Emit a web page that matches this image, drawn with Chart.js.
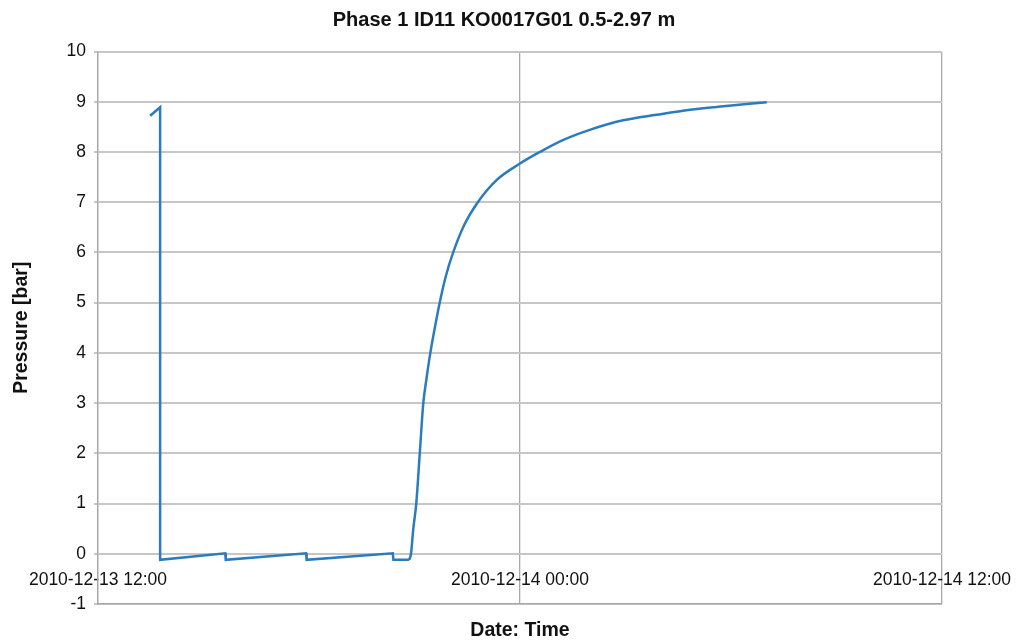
<!DOCTYPE html>
<html>
<head>
<meta charset="utf-8">
<title>Phase 1 ID11 KO0017G01</title>
<script src="https://cdn.jsdelivr.net/npm/chart.js@4.4.1/dist/chart.umd.min.js"></script>
<style>
  html, body { margin: 0; padding: 0; background: #ffffff; }
  #wrap { width: 1026px; height: 644px; }
</style>
</head>
<body>
<div id="wrap"><canvas id="chart" width="1026" height="644"></canvas></div>
<script>
// readings (UTC time stamps) and pressure values
var times = [
    '2010-12-13 13:29', '2010-12-13 13:46', '2010-12-13 13:46',
    '2010-12-13 15:37', '2010-12-13 15:38', '2010-12-13 17:55', '2010-12-13 17:56',
    '2010-12-13 20:23', '2010-12-13 20:24', '2010-12-13 20:51', '2010-12-13 20:54',
    '2010-12-13 20:58', '2010-12-13 21:03', '2010-12-13 21:09', '2010-12-13 21:15',
    '2010-12-13 21:20', '2010-12-13 21:27', '2010-12-13 21:35', '2010-12-13 21:43',
    '2010-12-13 21:54', '2010-12-13 22:06', '2010-12-13 22:25', '2010-12-13 22:48',
    '2010-12-13 23:20', '2010-12-14 00:00', '2010-12-14 00:34', '2010-12-14 01:14',
    '2010-12-14 01:59', '2010-12-14 02:56', '2010-12-14 03:53', '2010-12-14 04:50',
    '2010-12-14 05:47', '2010-12-14 07:01'
];
var pressure = [
    8.72, 8.89, -0.12,
    0.01, -0.12, 0.01, -0.12,
    0.01, -0.12, -0.12, 0.0,
    0.5, 1.0, 2.0, 3.0,
    3.45, 4.0, 4.52, 5.0,
    5.55, 6.0, 6.55, 7.0,
    7.44, 7.77, 8.0, 8.24,
    8.44, 8.63, 8.74, 8.84,
    8.91, 8.99
];
// index where the slow recovery curve begins (after the step drops)
var recoveryStart = 9;
var xStart = '2010-12-13 12:00';
var xEnd = '2010-12-14 12:00';
var yTicks = { min: -1, max: 10, step: 1 };

function toMs(s) {
    var d = s.split(' ')[0].split('-');
    var t = s.split(' ')[1].split(':');
    return Date.UTC(+d[0], +d[1] - 1, +d[2], +t[0], +t[1]);
}
function fmt(ms) {
    var iso = new Date(ms).toISOString();
    return iso.slice(0, 10) + ' ' + iso.slice(11, 16);
}

var steps = [], recovery = [];
for (var i = 0; i < times.length; i++) {
    var p = { x: toMs(times[i]), y: pressure[i] };
    if (i <= recoveryStart) steps.push(p);
    if (i >= recoveryStart) recovery.push(p);
}

var lineColor = '#2b7bbf';
var fontFamily = "'Liberation Sans', Arial, Helvetica, sans-serif";
var context = document.getElementById('chart').getContext('2d');

var chart = new Chart(context, {
    type: 'line',
    data: {
        datasets: [
            {
                label: 'Pressure',
                data: steps,
                borderColor: lineColor,
                borderWidth: 2.5,
                pointRadius: 0,
                tension: 0,
                fill: false
            },
            {
                label: 'Pressure recovery',
                data: recovery,
                borderColor: lineColor,
                borderWidth: 2.5,
                pointRadius: 0,
                cubicInterpolationMode: 'monotone',
                fill: false
            }
        ]
    },
    options: {
        responsive: false,
        animation: false,
        devicePixelRatio: 1,
        layout: { padding: { top: 0, left: 0, right: 18, bottom: 0 } },
        plugins: {
            legend: { display: false },
            tooltip: { enabled: false },
            title: {
                display: true,
                text: 'Phase 1 ID11 KO0017G01 0.5-2.97 m',
                color: '#111111',
                font: { family: fontFamily, size: 20, weight: 'bold' },
                padding: { top: 8, bottom: 19.5 }
            }
        },
        scales: {
            x: {
                type: 'linear',
                position: 'bottom',
                min: toMs(xStart),
                max: toMs(xEnd),
                ticks: { display: false, stepSize: 12 * 3600 * 1000 },
                grid: { color: '#a8a8a8', lineWidth: 1.3, drawTicks: false },
                border: { color: '#a8a8a8', width: 1.3 },
                title: {
                    display: true,
                    text: 'Date: Time',
                    color: '#111111',
                    font: { family: fontFamily, size: 19.5, weight: 'bold' },
                    padding: { top: 14, bottom: 2 }
                },
                afterFit: function(scale) { scale.height = 40; }
            },
            x2: {
                type: 'linear',
                axis: 'x',
                position: { y: 0 },
                min: toMs(xStart),
                max: toMs(xEnd),
                grid: { display: false, drawTicks: false },
                border: { display: false },
                ticks: {
                    stepSize: 12 * 3600 * 1000,
                    autoSkip: false,
                    maxRotation: 0,
                    padding: 16,
                    color: '#111111',
                    font: { family: fontFamily, size: 17.5 },
                    callback: function(value) { return fmt(value); }
                },
                afterFit: function(scale) { scale.paddingRight = 84; }
            },
            y: {
                min: yTicks.min,
                max: yTicks.max,
                ticks: {
                    stepSize: yTicks.step,
                    padding: 8,
                    color: '#111111',
                    font: { family: fontFamily, size: 17.5 }
                },
                grid: { color: '#c6c6c6', lineWidth: 2, tickLength: 4, tickColor: '#a8a8a8', tickWidth: 1.3 },
                border: { color: '#a8a8a8', width: 1.3 },
                title: {
                    display: true,
                    text: 'Pressure [bar]',
                    color: '#111111',
                    font: { family: fontFamily, size: 19.5, weight: 'bold' },
                    padding: { top: 10, bottom: 4 }
                },
                afterFit: function(scale) { scale.width = 98; }
            }
        }
    }
});
</script>
</body>
</html>
